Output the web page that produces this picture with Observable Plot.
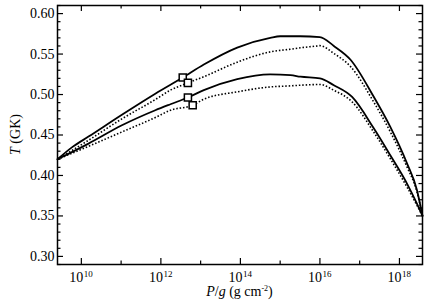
<!DOCTYPE html>
<html>
<head>
<meta charset="utf-8">
<script src="https://cdn.jsdelivr.net/npm/d3@7"></script>
<script src="https://cdn.jsdelivr.net/npm/@observablehq/plot@0.6"></script>
<style>
  html, body { margin: 0; padding: 0; background: #fff; }
  #chart svg { display: block; }
  #chart svg text { font-family: "Liberation Serif", serif !important; }
</style>
</head>
<body>
<div id="chart"></div>
<script>
// ---- data (x given as log10 of P/g in g cm^-2, y as T in GK) ----
const upperSolidLogP = [9.40, 9.77, 10.18, 11.02, 11.86, 12.55, 13.08, 13.92, 14.75, 15.00, 15.50, 16.00, 16.35, 16.77, 17.35, 17.77, 18.19, 18.44, 18.58];
const upperSolidT    = [0.420, 0.435, 0.448, 0.475, 0.501, 0.521, 0.537, 0.558, 0.570, 0.572, 0.572, 0.571, 0.560, 0.543, 0.4975, 0.460, 0.415, 0.382, 0.350];

const upperDotLogP = [9.40, 10.18, 11.02, 11.86, 12.24, 12.68, 13.08, 13.92, 14.75, 15.26, 15.51, 15.93, 16.00, 16.35, 16.77, 17.35, 17.77, 18.19, 18.44, 18.58];
const upperDotT    = [0.420, 0.4435, 0.470, 0.4938, 0.5054, 0.5144, 0.522, 0.540, 0.5527, 0.556, 0.5577, 0.560, 0.5604, 0.5508, 0.5345, 0.491, 0.454, 0.4105, 0.380, 0.350];

const lowerSolidLogP = [9.40, 10.18, 11.02, 11.86, 12.24, 12.68, 13.08, 13.92, 14.75, 15.26, 15.51, 16.00, 16.35, 16.81, 17.35, 17.77, 18.19, 18.44, 18.58];
const lowerSolidT    = [0.420, 0.4394, 0.462, 0.4806, 0.488, 0.4963, 0.5054, 0.519, 0.5248, 0.524, 0.522, 0.520, 0.5115, 0.497, 0.4586, 0.425, 0.390, 0.3652, 0.350];

const lowerDotLogP = [9.40, 10.18, 11.02, 11.86, 12.24, 12.80, 13.08, 13.92, 14.75, 15.26, 15.51, 16.00, 16.35, 16.81, 17.35, 17.77, 18.19, 18.58];
const lowerDotT    = [0.420, 0.436, 0.4538, 0.4716, 0.4806, 0.4868, 0.4942, 0.5033, 0.5094, 0.5107, 0.5115, 0.5124, 0.5053, 0.4909, 0.4538, 0.4208, 0.3857, 0.350];

const squareLogP = [12.55, 12.68, 12.68, 12.80];
const squareT    = [0.521, 0.5144, 0.4963, 0.4868];

const xMajorExp = [10, 12, 14, 16, 18];
const xMinorExp = [11, 13, 15, 17];
const yMajorTicks = [0.30, 0.35, 0.40, 0.45, 0.50, 0.55, 0.60];
const yMinorTicks = [0.29, 0.31, 0.32, 0.33, 0.34, 0.36, 0.37, 0.38, 0.39, 0.41, 0.42, 0.43, 0.44,
                     0.46, 0.47, 0.48, 0.49, 0.51, 0.52, 0.53, 0.54, 0.56, 0.57, 0.58, 0.59, 0.61];
const xDomainExp = [9.40, 18.58];
const yDomain = [0.29, 0.61];

const xLabel = ["P", "/", "g", " (g cm", "-2", ")"];
const yLabel = ["T", " (GK)"];

// ---- build tables ----
const rows = (lp, t) => lp.map((v, i) => ({P: Math.pow(10, v), T: t[i]}));
const upperSolid = rows(upperSolidLogP, upperSolidT);
const upperDot = rows(upperDotLogP, upperDotT);
const lowerSolid = rows(lowerSolidLogP, lowerSolidT);
const lowerDot = rows(lowerDotLogP, lowerDotT);
const squares = rows(squareLogP, squareT);
const xMajor = xMajorExp.map(e => Math.pow(10, e));
const xMinor = xMinorExp.map(e => Math.pow(10, e));

const W = 429, H = 305, mL = 57, mR = 7, mT = 5, mB = 41;
const innerW = W - mL - mR, innerH = H - mT - mB;
const majorLen = 6, minorLen = 3.5;
const font = "'Liberation Serif', serif";

const lineStyle = {x: "P", y: "T", stroke: "black", strokeWidth: 1.8, curve: "monotone-x"};
const dotStyle = {x: "P", y: "T", stroke: "black", strokeWidth: 1.6, strokeDasharray: "1.5,1.9", strokeLinecap: "butt", curve: "monotone-x"};

const chart = Plot.plot({
  width: W, height: H,
  marginLeft: mL, marginRight: mR, marginTop: mT, marginBottom: mB,
  x: {type: "log", domain: xDomainExp.map(e => Math.pow(10, e))},
  y: {domain: yDomain},
  style: {fontFamily: font, fontSize: "14px", background: "white", color: "black"},
  marks: [
    Plot.line(upperDot, dotStyle),
    Plot.line(lowerDot, dotStyle),
    Plot.line(upperSolid, lineStyle),
    Plot.line(lowerSolid, lineStyle),
    Plot.dot(squares, {x: "P", y: "T", symbol: "square", r: 4, stroke: "black", fill: "white", strokeWidth: 1.5}),
    // inward ticks, bottom & top
    Plot.tickX(xMajor, {x: d => d, insetTop: innerH - majorLen, stroke: "black", strokeWidth: 1.2}),
    Plot.tickX(xMajor, {x: d => d, insetBottom: innerH - majorLen, stroke: "black", strokeWidth: 1.2}),
    Plot.tickX(xMinor, {x: d => d, insetTop: innerH - minorLen, stroke: "black", strokeWidth: 1.2}),
    Plot.tickX(xMinor, {x: d => d, insetBottom: innerH - minorLen, stroke: "black", strokeWidth: 1.2}),
    // inward ticks, left & right
    Plot.tickY(yMajorTicks, {y: d => d, insetRight: innerW - majorLen, stroke: "black", strokeWidth: 1.2}),
    Plot.tickY(yMajorTicks, {y: d => d, insetLeft: innerW - majorLen, stroke: "black", strokeWidth: 1.2}),
    Plot.tickY(yMinorTicks, {y: d => d, insetRight: innerW - minorLen, stroke: "black", strokeWidth: 1.2}),
    Plot.tickY(yMinorTicks, {y: d => d, insetLeft: innerW - minorLen, stroke: "black", strokeWidth: 1.2}),
    Plot.frame({stroke: "black", strokeWidth: 1.5}),
    // tick labels
    Plot.axisX(xMajor, {tickSize: 0, tickPadding: 8, tickFormat: () => "10", fontSize: 14, dx: -5, label: null}),
    Plot.axisX(xMajor, {tickSize: 0, tickPadding: 8, tickFormat: d => String(Math.round(Math.log10(d))), fontSize: 9, dx: 7, dy: -2, label: null}),
    Plot.axisY(yMajorTicks, {tickSize: 0, tickPadding: 3, tickFormat: d => d.toFixed(2), fontSize: 14, label: null})
  ]
});

document.getElementById("chart").append(chart);

// axis titles with mixed italic / superscript
const svg = d3.select(chart);
const xt = svg.append("text")
  .attr("x", mL + innerW / 2).attr("y", 296)
  .attr("text-anchor", "middle").attr("font-size", 14).attr("fill", "black");
xt.append("tspan").attr("font-style", "italic").text(xLabel[0]);
xt.append("tspan").text(xLabel[1]);
xt.append("tspan").attr("font-style", "italic").text(xLabel[2]);
xt.append("tspan").text(xLabel[3]);
xt.append("tspan").attr("font-size", 8).attr("dy", -5).text(xLabel[4]);
xt.append("tspan").attr("dy", 5).text(xLabel[5]);

const yt = svg.append("text")
  .attr("transform", `translate(20,${mT + innerH / 2}) rotate(-90)`)
  .attr("text-anchor", "middle").attr("font-size", 14).attr("fill", "black");
yt.append("tspan").attr("font-style", "italic").text(yLabel[0]);
yt.append("tspan").text(yLabel[1]);

// make sure every text uses the serif face
svg.selectAll("text").attr("font-family", font).style("font-family", "'Liberation Serif', serif");
</script>
</body>
</html>
